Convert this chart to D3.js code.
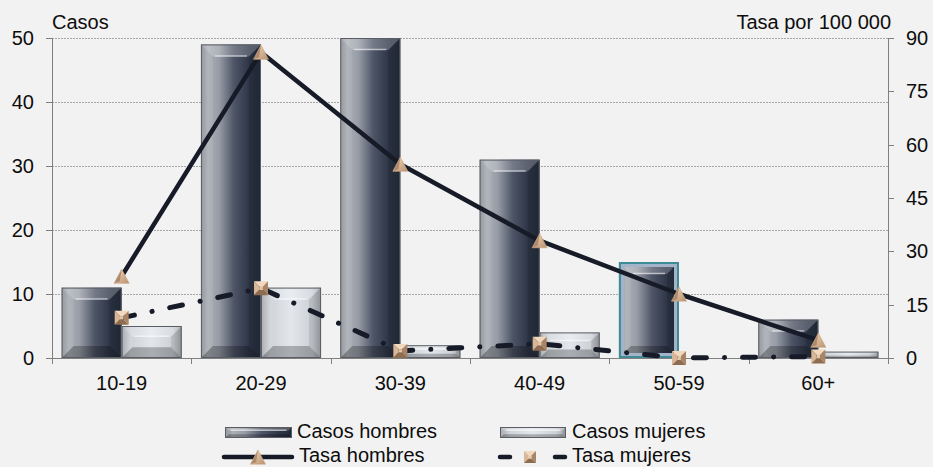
<!DOCTYPE html>
<html>
<head>
<meta charset="utf-8">
<script src="https://cdn.jsdelivr.net/npm/d3@7"></script>
<style>
  html, body { margin: 0; padding: 0; background: #f2f2f2; }
  svg { display: block; font-family: "Liberation Sans", Arial, sans-serif; }
</style>
</head>
<body>
<svg id="chart" width="933" height="467"></svg>
<script>
// Age groups and series
const categories = ["10-19", "20-29", "30-39", "40-49", "50-59", "60+"];
const casosHombres = [11, 49, 50, 31, 15, 6];
const casosMujeres = [5, 11, 2, 4, 0, 1];
const tasaHombres = [23, 86, 54.5, 33, 18, 5];
const tasaMujeres = [11.3, 19.6, 2, 4, 0, 0.4];
const leftTicks = [0, 10, 20, 30, 40, 50];
const rightTicks = [0, 15, 30, 45, 60, 75, 90];
const highlightedGroup = "50-59";

const W = 933, H = 467;
const margin = { top: 38, right: 45, bottom: 109, left: 52 };
const svg = d3.select("#chart");
const defs = svg.append("defs");

svg.append("rect").attr("width", W).attr("height", H).attr("fill", "#f2f2f2");

const x = d3.scaleBand().domain(categories).range([margin.left, W - margin.right]).padding(0);
const x1 = d3.scaleBand().domain(["h", "m"]).range([0, x.bandwidth()]).paddingInner(0).paddingOuter(0.16);
const yL = d3.scaleLinear().domain([0, 50]).range([H - margin.bottom, margin.top]);
const yR = d3.scaleLinear().domain([0, 90]).range([H - margin.bottom, margin.top]);

// Gradients
function hGrad(id, stops) {
  const g = defs.append("linearGradient").attr("id", id).attr("x1", 0).attr("x2", 1).attr("y1", 0).attr("y2", 0);
  stops.forEach(([o, c]) => g.append("stop").attr("offset", o).attr("stop-color", c));
}
hGrad("gH", [[0, "#8c9096"], [0.12, "#abafb6"], [0.3, "#979ca6"], [0.55, "#4d5566"], [0.8, "#2e3647"], [1, "#232b3a"]]);
hGrad("gM", [[0, "#a2a6ab"], [0.15, "#cfd3d8"], [0.5, "#e3e7ec"], [0.85, "#cdd1d6"], [1, "#9ea2a8"]]);
const gT = defs.append("linearGradient").attr("id", "gTri").attr("x1", 0).attr("x2", 1).attr("y1", 0).attr("y2", 1);
gT.append("stop").attr("offset", 0).attr("stop-color", "#f6dcc0");
gT.append("stop").attr("offset", 1).attr("stop-color", "#b8916e");

// Gridlines
svg.append("g").selectAll("line").data(leftTicks.filter(d => d > 0)).join("line")
  .attr("x1", margin.left).attr("x2", W - margin.right)
  .attr("y1", d => Math.round(yL(d)) + 0.5).attr("y2", d => Math.round(yL(d)) + 0.5)
  .attr("stroke", "#a6a6a6").attr("stroke-dasharray", "2,1");

// Bevelled bar
function drawBar(g, x0, y0, w, h, fill, opts = {}) {
  if (h <= 0) return;
  const b = Math.min(12, h / 3, w / 4);
  g.append("rect").attr("x", x0).attr("y", y0).attr("width", w).attr("height", h).attr("fill", fill);
  // top bevel (lighter)
  g.append("path").attr("d", `M${x0},${y0}L${x0 + w},${y0}L${x0 + w - b},${y0 + b}L${x0 + b},${y0 + b}Z`)
    .attr("fill", "#ffffff").attr("opacity", 0.22);
  // bottom bevel (darker)
  g.append("path").attr("d", `M${x0},${y0 + h}L${x0 + w},${y0 + h}L${x0 + w - b},${y0 + h - b}L${x0 + b},${y0 + h - b}Z`)
    .attr("fill", "#000000").attr("opacity", 0.25);
  // side bevels
  g.append("path").attr("d", `M${x0},${y0}L${x0 + b},${y0 + b}L${x0 + b},${y0 + h - b}L${x0},${y0 + h}Z`)
    .attr("fill", "#ffffff").attr("opacity", 0.08);
  g.append("path").attr("d", `M${x0 + w},${y0}L${x0 + w - b},${y0 + b}L${x0 + w - b},${y0 + h - b}L${x0 + w},${y0 + h}Z`)
    .attr("fill", "#000000").attr("opacity", 0.1);
  // highlight streak
  if (h > 8) {
    g.append("line").attr("x1", x0 + b + 2).attr("x2", x0 + w - b - 2)
      .attr("y1", y0 + b - 0.5).attr("y2", y0 + b - 0.5)
      .attr("stroke", "#ffffff").attr("stroke-opacity", 0.55).attr("stroke-width", 1.5);
  }
  g.append("rect").attr("x", x0 + 0.5).attr("y", y0 + 0.5).attr("width", w - 1).attr("height", h - 1)
    .attr("fill", "none").attr("stroke", "#5a5e64").attr("stroke-width", 1);
  if (opts.highlight) {
    g.append("rect").attr("x", x0 + 3.5).attr("y", y0 + 3.5).attr("width", w - 7).attr("height", h - 7)
      .attr("fill", "none").attr("stroke", "#a3b4ca").attr("stroke-width", 3);
    g.append("rect").attr("x", x0 + 1).attr("y", y0 + 1).attr("width", w - 2).attr("height", h - 2)
      .attr("fill", "none").attr("stroke", "#3f8c96").attr("stroke-width", 2);
  }
}

const bars = svg.append("g");
categories.forEach((c, i) => {
  const bw = x1.bandwidth();
  const xh = x(c) + x1("h"), xm = x(c) + x1("m");
  drawBar(bars, xh, yL(casosHombres[i]), bw, yL(0) - yL(casosHombres[i]), "url(#gH)", { highlight: c === highlightedGroup });
  drawBar(bars, xm, yL(casosMujeres[i]), bw, yL(0) - yL(casosMujeres[i]), "url(#gM)");
});

// Axes
const axisColor = "#7f7f7f";
const ax = svg.append("g").attr("stroke", axisColor).attr("fill", "none");
ax.append("line").attr("x1", margin.left + 0.5).attr("x2", margin.left + 0.5).attr("y1", yL(50)).attr("y2", yL(0));
ax.append("line").attr("x1", W - margin.right + 0.5).attr("x2", W - margin.right + 0.5).attr("y1", yR(90)).attr("y2", yR(0));
ax.append("line").attr("x1", margin.left).attr("x2", W - margin.right).attr("y1", yL(0) + 0.5).attr("y2", yL(0) + 0.5);
ax.selectAll(".tl").data(leftTicks).join("line").attr("class", "tl")
  .attr("x1", margin.left - 6).attr("x2", margin.left).attr("y1", d => Math.round(yL(d)) + 0.5).attr("y2", d => Math.round(yL(d)) + 0.5);
ax.selectAll(".tr").data(rightTicks).join("line").attr("class", "tr")
  .attr("x1", W - margin.right).attr("x2", W - margin.right + 6).attr("y1", d => Math.round(yR(d)) + 0.5).attr("y2", d => Math.round(yR(d)) + 0.5);
const bounds = categories.map(c => x(c)).concat([W - margin.right]);
ax.selectAll(".tx").data(bounds).join("line").attr("class", "tx")
  .attr("x1", d => Math.round(d) + 0.5).attr("x2", d => Math.round(d) + 0.5).attr("y1", yL(0)).attr("y2", yL(0) + 6);

const FS = 20;
const txt = svg.append("g").attr("fill", "#0d0d0d").attr("font-size", FS);
txt.selectAll(".ll").data(leftTicks).join("text").attr("class", "ll")
  .attr("x", 34).attr("y", d => yL(d)).attr("dy", "0.35em").attr("text-anchor", "end").text(d => d);
txt.selectAll(".rl").data(rightTicks).join("text").attr("class", "rl")
  .attr("x", 906).attr("y", d => yR(d)).attr("dy", "0.35em").text(d => d);
txt.selectAll(".xl").data(categories).join("text").attr("class", "xl")
  .attr("x", d => x(d) + x.bandwidth() / 2).attr("y", 390).attr("text-anchor", "middle").text(d => d);
txt.append("text").attr("x", 52).attr("y", 29).text("Casos");
txt.append("text").attr("x", 891).attr("y", 29).attr("text-anchor", "end").text("Tasa por 100 000");

// Markers
function triangle(g, cx, cy, s = 15) {
  const h = s * 0.95;
  const gg = g.append("g").attr("transform", `translate(${cx},${cy})`);
  gg.append("path").attr("d", `M0,${-h / 2}L${s / 2},${h / 2}L${-s / 2},${h / 2}Z`).attr("fill", "url(#gTri)");
  gg.append("path").attr("d", `M0,${-h / 2}L${-s / 2},${h / 2}L${-s / 8},${h / 2 - 2}Z`).attr("fill", "#9c7658").attr("opacity", 0.7);
  gg.append("path").attr("d", `M0,${-h / 2}L${s / 2},${h / 2}L${-s / 2},${h / 2}Z`).attr("fill", "none").attr("stroke", "#c8a282").attr("stroke-width", 0.6);
}
function square(g, cx, cy, s = 14) {
  const r = s / 2, c = s * 0.12;
  const gg = g.append("g").attr("transform", `translate(${cx},${cy})`);
  gg.append("path").attr("d", `M${-r},${-r}L${r},${-r}L${c},${-c}L${-c},${-c}Z`).attr("fill", "#f2d8bd");
  gg.append("path").attr("d", `M${-r},${-r}L${-c},${-c}L${-c},${c}L${-r},${r}Z`).attr("fill", "#d9b696");
  gg.append("path").attr("d", `M${r},${-r}L${r},${r}L${c},${c}L${c},${-c}Z`).attr("fill", "#a98566");
  gg.append("path").attr("d", `M${-r},${r}L${r},${r}L${c},${c}L${-c},${c}Z`).attr("fill", "#8e6c50");
  gg.append("rect").attr("x", -c).attr("y", -c).attr("width", 2 * c).attr("height", 2 * c).attr("fill", "#e6c6a6");
}

const cx = c => x(c) + x.bandwidth() / 2;
const lineColor = "#161b27";

const lineM = d3.line().x((d, i) => cx(categories[i])).y(d => yR(d));
svg.append("path").datum(tasaMujeres).attr("d", lineM).attr("fill", "none")
  .attr("stroke", lineColor).attr("stroke-width", 5).attr("stroke-linecap", "round")
  .attr("stroke-dasharray", "13 18 0.1 18");
svg.append("path").datum(tasaHombres).attr("d", lineM).attr("fill", "none")
  .attr("stroke", lineColor).attr("stroke-width", 4.5).attr("stroke-linejoin", "round");

const mk = svg.append("g");
tasaHombres.forEach((v, i) => triangle(mk, cx(categories[i]), yR(v)));
tasaMujeres.forEach((v, i) => square(mk, cx(categories[i]), yR(v)));

// Legend
const lg = svg.append("g");
drawBar(lg, 225, 427, 67, 11, "url(#gH)");
drawBar(lg, 500, 427, 66, 11, "url(#gM)");
lg.append("line").attr("x1", 224).attr("x2", 292).attr("y1", 457).attr("y2", 457)
  .attr("stroke", lineColor).attr("stroke-width", 4.5).attr("stroke-linecap", "round");
triangle(lg, 258, 457);
lg.append("line").attr("x1", 500).attr("x2", 510).attr("y1", 457).attr("y2", 457)
  .attr("stroke", lineColor).attr("stroke-width", 4.5).attr("stroke-linecap", "round");
lg.append("line").attr("x1", 555).attr("x2", 565).attr("y1", 457).attr("y2", 457)
  .attr("stroke", lineColor).attr("stroke-width", 4.5).attr("stroke-linecap", "round");
square(lg, 530, 457, 12);
const lt = lg.append("g").attr("font-size", FS).attr("fill", "#0d0d0d");
lt.append("text").attr("x", 297).attr("y", 438).text("Casos hombres");
lt.append("text").attr("x", 572).attr("y", 438).text("Casos mujeres");
lt.append("text").attr("x", 299).attr("y", 462).text("Tasa hombres");
lt.append("text").attr("x", 572).attr("y", 462).text("Tasa mujeres");
</script>
</body>
</html>
